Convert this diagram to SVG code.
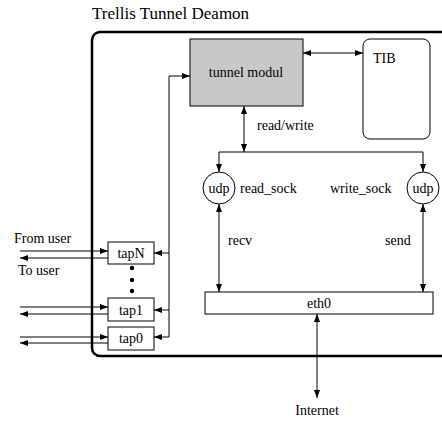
<svg xmlns="http://www.w3.org/2000/svg" width="442" height="424" viewBox="0 0 442 424" font-family="'Liberation Serif', 'DejaVu Serif', serif">
  <style>
    text { font-family: 'Liberation Serif', 'DejaVu Serif', serif; font-size: 14px; fill: #000; }
    .title { font-size: 17px; }
    .box { fill: #fff; stroke: #000; stroke-width: 1; }
    .wire { fill: none; stroke: #000; stroke-width: 1; }
    .frame { fill: none; stroke: #000; stroke-width: 2.5; }
  </style>
  <defs>
    <marker id="ah" viewBox="0 0 8 6" refX="8" refY="3" markerWidth="8" markerHeight="6" markerUnits="userSpaceOnUse" orient="auto-start-reverse">
      <path d="M0,0 L8,3 L0,6 Z" fill="#000"/>
    </marker>
  </defs>

  <rect fill="#fff" width="442" height="424"/>

  <text class="title" x="92" y="19">Trellis Tunnel Deamon</text>

  <!-- daemon frame, runs off the right edge -->
  <rect class="frame" x="92" y="32" width="400" height="324" rx="8"/>

  <g id="connectors">
    <!-- tunnel modul <-> TIB -->
    <line class="wire" x1="303" y1="53" x2="363" y2="53" marker-start="url(#ah)" marker-end="url(#ah)"/>
    <!-- tap bus -->
    <polyline class="wire" points="169,337 169,76 190,76" marker-end="url(#ah)"/>
    <line class="wire" x1="169" y1="253" x2="154" y2="253" marker-end="url(#ah)"/>
    <line class="wire" x1="169" y1="310" x2="154" y2="310" marker-end="url(#ah)"/>
    <line class="wire" x1="169" y1="337" x2="154" y2="337" marker-end="url(#ah)"/>
    <!-- user side -->
    <line class="wire" x1="20" y1="251" x2="108" y2="251" marker-end="url(#ah)"/>
    <line class="wire" x1="108" y1="258" x2="20" y2="258" marker-end="url(#ah)"/>
    <line class="wire" x1="20" y1="307" x2="108" y2="307" marker-end="url(#ah)"/>
    <line class="wire" x1="108" y1="314" x2="20" y2="314" marker-end="url(#ah)"/>
    <line class="wire" x1="20" y1="337" x2="108" y2="337" marker-end="url(#ah)"/>
    <line class="wire" x1="108" y1="343" x2="20" y2="343" marker-end="url(#ah)"/>
    <!-- read/write -->
    <line class="wire" x1="244" y1="106" x2="244" y2="152" marker-start="url(#ah)" marker-end="url(#ah)"/>
    <line class="wire" x1="219" y1="152" x2="423" y2="152"/>
    <line class="wire" x1="219" y1="152" x2="219" y2="172" marker-end="url(#ah)"/>
    <line class="wire" x1="423" y1="152" x2="423" y2="172" marker-end="url(#ah)"/>
    <!-- sockets <-> eth0 -->
    <line class="wire" x1="219" y1="204" x2="219" y2="292" marker-start="url(#ah)" marker-end="url(#ah)"/>
    <line class="wire" x1="423" y1="204" x2="423" y2="292" marker-start="url(#ah)" marker-end="url(#ah)"/>
    <!-- eth0 <-> Internet -->
    <line class="wire" x1="317" y1="314" x2="317" y2="398" marker-start="url(#ah)" marker-end="url(#ah)"/>
  </g>

  <g id="tunnel-modul">
    <rect x="190" y="39" width="113" height="67" fill="#c8c8c8" stroke="#000" stroke-width="1"/>
    <text x="246" y="77" text-anchor="middle">tunnel modul</text>
  </g>

  <g id="tib">
    <rect class="box" x="363" y="39" width="67" height="100" rx="7"/>
    <text x="373" y="63">TIB</text>
  </g>

  <g id="udp-read">
    <circle class="box" cx="219" cy="188" r="16"/>
    <text x="219" y="193" text-anchor="middle">udp</text>
  </g>

  <g id="udp-write">
    <circle class="box" cx="423" cy="188" r="16"/>
    <text x="423" y="193" text-anchor="middle">udp</text>
  </g>

  <g id="eth0">
    <rect class="box" x="205" y="292" width="228" height="22"/>
    <text x="319" y="308" text-anchor="middle">eth0</text>
  </g>

  <g id="tapN">
    <rect class="box" x="108" y="242" width="46" height="22"/>
    <text x="131" y="258" text-anchor="middle">tapN</text>
  </g>

  <g id="tap1">
    <rect class="box" x="108" y="298" width="46" height="23"/>
    <text x="131" y="315" text-anchor="middle">tap1</text>
  </g>

  <g id="tap0">
    <rect class="box" x="108" y="327" width="46" height="23"/>
    <text x="131" y="343" text-anchor="middle">tap0</text>
  </g>

  <g id="tap-ellipsis">
    <circle cx="132" cy="268" r="2.2"/>
    <circle cx="132" cy="280" r="2.2"/>
    <circle cx="132" cy="291" r="2.2"/>
  </g>

  <g id="labels">
    <text x="257" y="130">read/write</text>
    <text x="240" y="193">read_sock</text>
    <text x="330" y="193">write_sock</text>
    <text x="228" y="245">recv</text>
    <text x="385" y="245">send</text>
    <text x="14" y="243">From user</text>
    <text x="18" y="275">To user</text>
    <text x="317" y="415" text-anchor="middle">Internet</text>
  </g>
</svg>
